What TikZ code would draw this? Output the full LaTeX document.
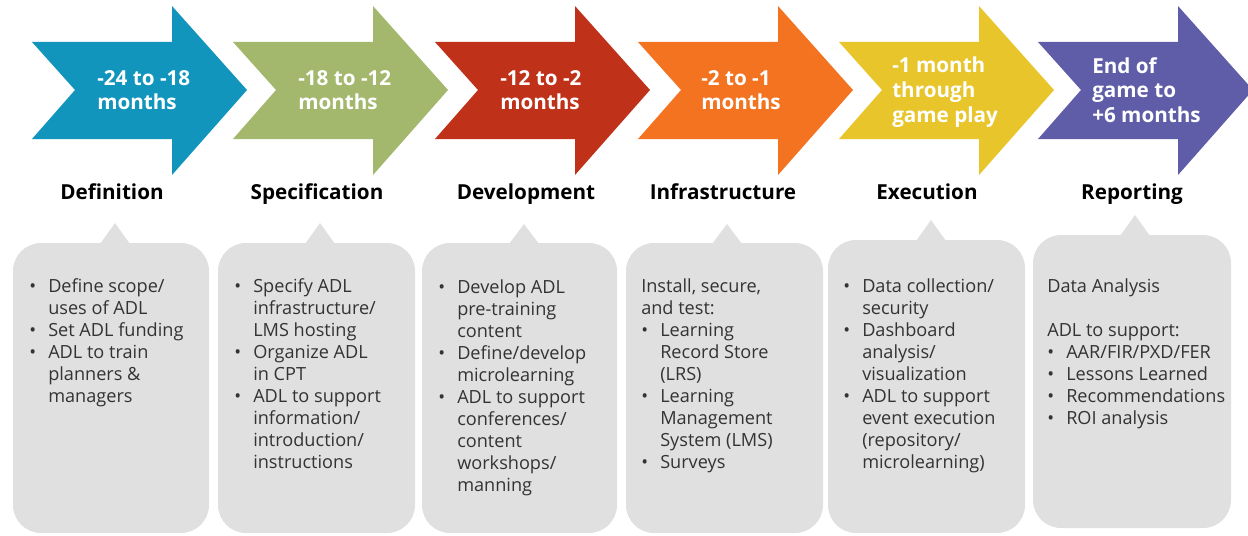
\documentclass[tikz,border=0pt]{standalone}
\usepackage{fontspec}
\setmainfont{Open Sans}
\definecolor{cBlue}{HTML}{1195BC}
\definecolor{cGreen}{HTML}{A3B86C}
\definecolor{cRed}{HTML}{C0311A}
\definecolor{cOrange}{HTML}{F37321}
\definecolor{cYellow}{HTML}{E8C52B}
\definecolor{cPurple}{HTML}{5F5CA8}
\definecolor{boxgray}{HTML}{E0E0E0}
\definecolor{txt}{HTML}{333333}
\tikzset{
  arrowlbl/.style={text=white, font=\bfseries\fontsize{15.5}{18.5}\selectfont, align=left, anchor=west, inner sep=0pt},
  phasetitle/.style={font=\bfseries\fontsize{15.5}{18}\selectfont, text=black, inner sep=0pt, anchor=base},
  boxtxt/.style={font=\fontsize{13.6}{16.5}\selectfont, text=txt, align=left, anchor=north west, inner sep=0pt},
}
\newcommand{\bl}{\makebox[14.25pt][l]{•}}
\newcommand{\ind}{\hspace*{14.25pt}}
\newcommand{\chev}[2]{\fill[#2] (#1,42) -- ++(140,0) -- ++(0,-36) -- ++(75,84) -- ++(-75,85) -- ++(0,-36) -- ++(-140,0) -- ++(43,-49) -- cycle;}
\newcommand{\callout}[6]{%
  \fill[boxgray,rounded corners=21pt] (#1,#3) rectangle (#2,#4);
  \fill[boxgray] (#5-15,#3+1) -- (#5,#6) -- (#5+15,#3+1) -- cycle;}
\begin{document}
\begin{tikzpicture}[x=0.75pt,y=-0.75pt]
\useasboundingbox (0,0) rectangle (1248,535);
\clip (0,0) rectangle (1248,535);
% arrows
\chev{32}{cBlue}
\chev{233}{cGreen}
\chev{435}{cRed}
\chev{638}{cOrange}
\chev{839}{cYellow}
\chev{1038}{cPurple}
\node[arrowlbl] (a1) at (97,90) {-24 to -18\\months};
\node[arrowlbl] (a2) at (298,90) {-18 to -12\\months};
\node[arrowlbl] (a3) at (500,90) {-12 to -2\\months};
\node[arrowlbl] (a4) at (701,90) {-2 to -1\\months};
\node[arrowlbl] (a5) at (892,92) {-1 month\\through\\game play};
\node[arrowlbl] (a6) at (1092,90) {End of\\game to\\+6 months};
% titles
\node[phasetitle] (t1) at (112,199) {Definition};
\node[phasetitle] (t2) at (317,199) {Specification};
\node[phasetitle] (t3) at (526,199) {Development};
\node[phasetitle] (t4) at (723,199) {Infrastructure};
\node[phasetitle] (t5) at (927,199) {Execution};
\node[phasetitle] (t6) at (1132,199) {Reporting};
% callouts
\callout{13}{209}{243}{533}{115}{223}
\callout{218}{415}{243}{533}{320}{223}
\callout{422}{617}{243}{533}{524}{224}
\callout{626}{823}{243}{533}{727}{224}
\callout{828}{1025}{240}{533}{931}{220}
\callout{1033}{1231}{235}{528}{1135}{215}
\node[boxtxt] (b1) at (29,278) {\bl Define scope/\\\ind uses of ADL\\\bl Set ADL funding\\\bl ADL to train\\\ind planners \&\\\ind managers};
\node[boxtxt] (b2) at (234,278) {\bl Specify ADL\\\ind infrastructure/\\\ind LMS hosting\\\bl Organize ADL\\\ind in CPT\\\bl ADL to support\\\ind information/\\\ind introduction/\\\ind instructions};
\node[boxtxt] (b3) at (438,279) {\bl Develop ADL\\\ind pre-training\\\ind content\\\bl Define/develop\\\ind microlearning\\\bl ADL to support\\\ind conferences/\\\ind content\\\ind workshops/\\\ind manning};
\node[boxtxt] (b4) at (641,278) {Install, secure,\\and test:\\\bl Learning\\\ind Record Store\\\ind (LRS)\\\bl Learning\\\ind Management\\\ind System (LMS)\\\bl Surveys};
\node[boxtxt] (b5) at (843,278) {\bl Data collection/\\\ind security\\\bl Dashboard\\\ind analysis/\\\ind visualization\\\bl ADL to support\\\ind event execution\\\ind (repository/\\\ind microlearning)};
\node[boxtxt] (b6) at (1047,278) {Data Analysis\\\mbox{}\\ADL to support:\\\bl AAR/FIR/PXD/FER\\\bl Lessons Learned\\\bl Recommendations\\\bl ROI analysis};
\end{tikzpicture}
\end{document}
